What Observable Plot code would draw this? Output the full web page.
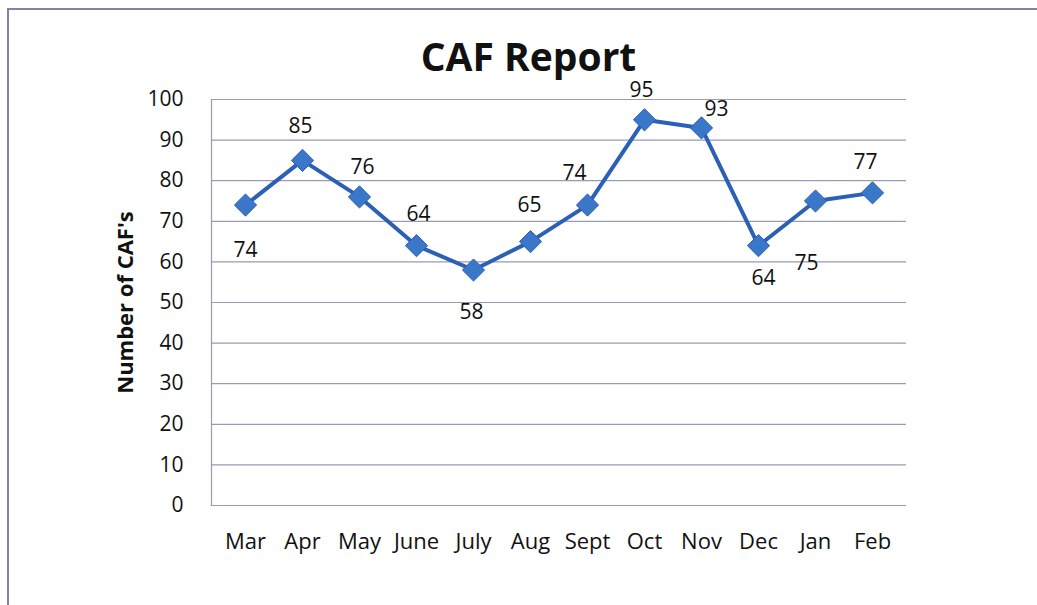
<!DOCTYPE html>
<html>
<head>
<meta charset="utf-8">
<script src="https://cdn.jsdelivr.net/npm/d3@7"></script>
<script src="https://cdn.jsdelivr.net/npm/@observablehq/plot@0.6"></script>
<style>
  html, body { margin: 0; padding: 0; background: #fff; }
  #wrap { position: relative; width: 1037px; height: 605px; overflow: hidden; font-family: "Open Sans", sans-serif; }
  #border { position: absolute; left: 7px; top: 8px; width: 1100px; height: 700px; border-left: 2px solid #7f82aa; border-top: 2px solid #7f82aa; box-sizing: border-box; }
  #title { position: absolute; left: 0; width: 1057px; top: 36px; text-align: center; font-size: 39px; line-height: 39px; font-weight: 700; color: #111; }
  #chart { position: absolute; left: 0; top: 0; }
</style>
</head>
<body>
<div id="wrap">
  <div id="border"></div>
  <div id="chart"></div>
  <div id="title">CAF Report</div>
</div>
<script>
// ---- data ----
const months = ["Mar", "Apr", "May", "June", "July", "Aug", "Sept", "Oct", "Nov", "Dec", "Jan", "Feb"];
const cafCounts = [74, 85, 76, 64, 58, 65, 74, 95, 93, 64, 75, 77];
const yTicks = [0, 10, 20, 30, 40, 50, 60, 70, 80, 90, 100];
const yLabel = "Number of CAF's";

// ---- label placement (layout only) ----
const labelDx = [0, -2, 3, 2, -2, -1, -13, -3, 15, 5, -9, -7];
const labelDy = [45, -34, -30, -31, 42, -36, -32, -30, -19, 33, 62, -31];

const rows = months.map((m, i) => ({month: m, value: cafCounts[i], i}));

const lineColor = "#2c60b6";
const markerFill = "#3a77c8";
const gridColor = "#9a9ab4";

const labelMarks = rows.map(r => Plot.text([r], {
  x: "month", y: "value", text: d => String(d.value),
  dx: labelDx[r.i], dy: labelDy[r.i],
  fontSize: 21, fill: "#111"
}));

const chart = Plot.plot({
  width: 1037,
  height: 605,
  marginLeft: 211,
  marginRight: 131,
  marginTop: 99,
  marginBottom: 100,
  style: {fontFamily: "'Open Sans', sans-serif", background: "transparent", overflow: "visible"},
  x: {type: "point", domain: months, padding: 0.5, label: null},
  y: {domain: [0, 100], ticks: yTicks, label: null},
  marks: [
    Plot.gridY(yTicks, {stroke: gridColor, strokeOpacity: 1, strokeWidth: 1.2}),
    Plot.frame({anchor: "left", stroke: gridColor, strokeWidth: 1.2}),
    Plot.axisY(yTicks, {tickSize: 0, tickPadding: 28, fontSize: 21, fill: "#111", label: null}),
    Plot.axisX({tickSize: 0, tickPadding: 28, fontSize: 22, fill: "#111", label: null}),
    Plot.text([yLabel], {frameAnchor: "left", textAnchor: "middle", rotate: -90, dx: -86, fontSize: 22, fontWeight: 700, fill: "#111"}),
    Plot.line(rows, {x: "month", y: "value", stroke: lineColor, strokeWidth: 4}),
    Plot.dot(rows, {x: "month", y: "value", symbol: "diamond2", r: 10, fill: markerFill, stroke: lineColor, strokeWidth: 1}),
    ...labelMarks
  ]
});
document.getElementById("chart").appendChild(chart);
</script>
</body>
</html>
